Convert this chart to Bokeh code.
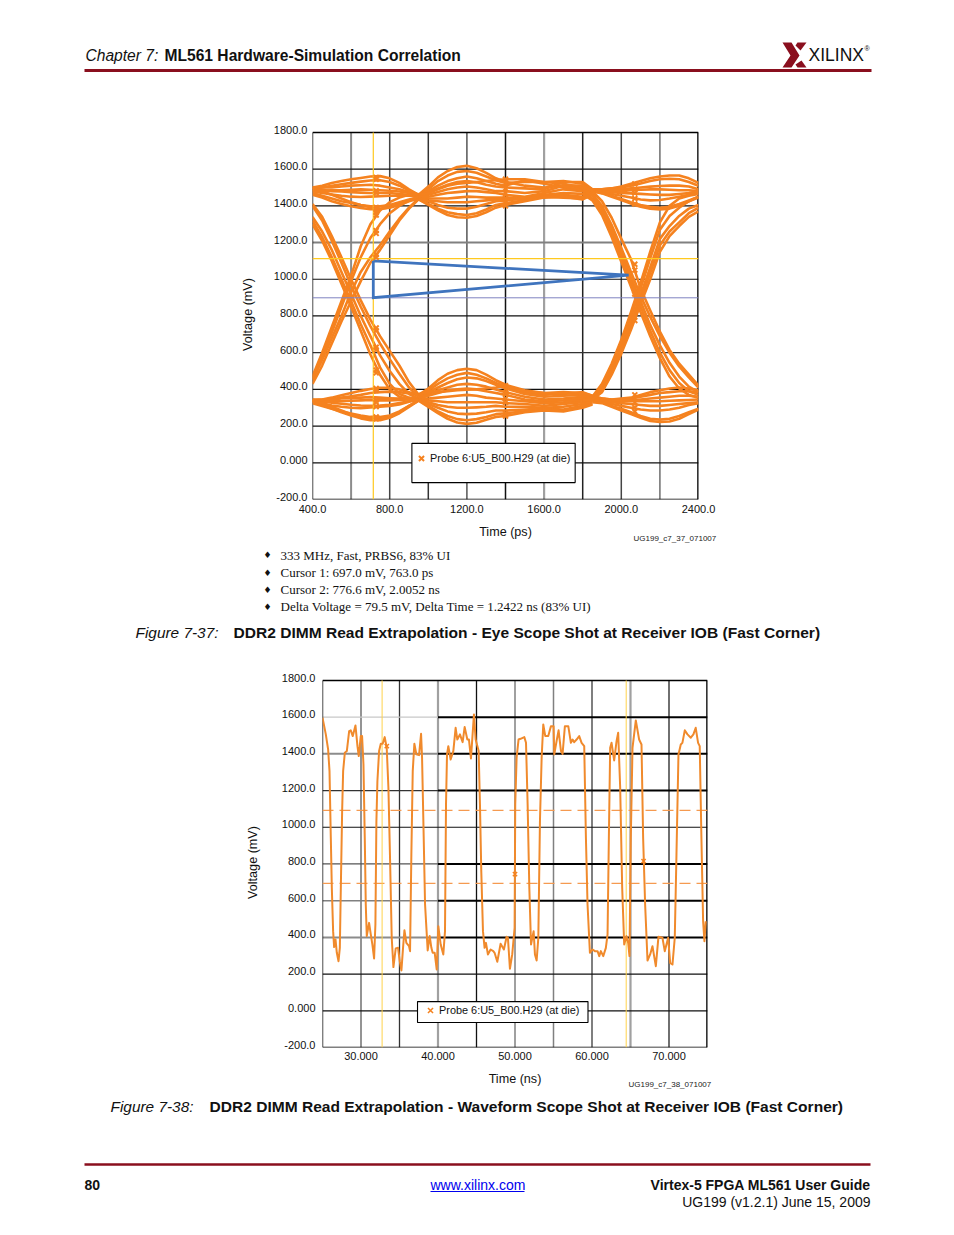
from bokeh.plotting import figure
from bokeh.layouts import column, row
from bokeh.models import (Range1d, FixedTicker, Legend, LegendItem, Spacer, BoxAnnotation)
from bokeh.core.properties import value
from bokeh.embed import file_html
from bokeh.resources import INLINE

ORANGE = "#F5821F"
MAROON = "#8A0F1E"
FONT = "Liberation Sans"

# ---------- eye diagram (figure 7-37) ----------
T_LEFT = [400, 450, 500, 550, 600, 650, 700, 750, 800, 850, 900, 950]
HI_LEFT = [
    [1500, 1510, 1525, 1535, 1545, 1552, 1560, 1562, 1550, 1525, 1490, 1460],
    [1490, 1500, 1510, 1518, 1525, 1532, 1538, 1540, 1530, 1510, 1485, 1460],
    [1500, 1500, 1500, 1505, 1510, 1512, 1515, 1510, 1500, 1490, 1475, 1460],
    [1480, 1483, 1485, 1485, 1488, 1490, 1488, 1485, 1482, 1478, 1470, 1460],
    [1490, 1487, 1480, 1478, 1475, 1472, 1470, 1470, 1470, 1465, 1460, 1450],
    [1480, 1470, 1462, 1455, 1450, 1448, 1450, 1452, 1455, 1455, 1455, 1450],
    [1470, 1455, 1440, 1425, 1415, 1405, 1398, 1398, 1405, 1420, 1435, 1445],
    [1460, 1445, 1425, 1410, 1398, 1388, 1382, 1382, 1392, 1410, 1430, 1445],
    [1500, 1480, 1460, 1440, 1420, 1405, 1392, 1385, 1390, 1405, 1425, 1440],
]
LO_LEFT = [
    [340, 345, 355, 368, 380, 392, 402, 408, 408, 400, 385, 370],
    [335, 340, 345, 355, 362, 370, 380, 385, 388, 385, 378, 368],
    [345, 345, 345, 350, 352, 355, 358, 355, 352, 350, 350, 355],
    [330, 332, 335, 335, 338, 340, 342, 340, 340, 342, 345, 350],
    [340, 335, 328, 322, 316, 312, 310, 312, 316, 325, 335, 348],
    [335, 325, 312, 305, 300, 298, 302, 305, 310, 318, 332, 345],
    [325, 310, 295, 280, 268, 258, 250, 250, 258, 280, 310, 340],
    [335, 315, 295, 275, 258, 242, 232, 232, 245, 270, 305, 338],
    [345, 325, 305, 285, 265, 250, 240, 238, 248, 275, 310, 340],
]
FALL_LEFT = [
    [1410, 1340, 1235, 1120, 1000, 885, 780, 690, 610, 530, 440, 370],
    [1400, 1320, 1210, 1090, 965, 850, 745, 650, 565, 485, 410, 360],
    [1340, 1260, 1160, 1040, 920, 800, 690, 585, 500, 430, 375, 350],
    [1320, 1230, 1120, 1000, 880, 755, 640, 520, 430, 375, 355, 345],
    [1300, 1210, 1100, 975, 850, 720, 590, 480, 400, 360, 345, 340],
]
RISE_LEFT = [
    [470, 600, 740, 880, 1020, 1180, 1300, 1375, 1420, 1445, 1460, 1465],
    [460, 580, 710, 850, 990, 1120, 1225, 1300, 1360, 1400, 1430, 1450],
    [450, 560, 680, 800, 930, 1040, 1120, 1185, 1260, 1330, 1390, 1440],
    [430, 530, 650, 770, 880, 990, 1090, 1160, 1240, 1320, 1385, 1435],
]
T_MID = [950, 1000, 1050, 1100, 1150, 1200, 1250, 1300, 1350, 1400, 1500, 1600, 1700, 1800, 1850]
HI_MID = [
    [1460, 1505, 1555, 1590, 1612, 1618, 1605, 1580, 1550, 1530, 1510, 1500, 1510, 1500, 1490],
    [1455, 1490, 1535, 1565, 1585, 1590, 1580, 1560, 1540, 1525, 1530, 1530, 1535, 1520, 1490],
    [1450, 1480, 1510, 1535, 1550, 1560, 1550, 1535, 1520, 1510, 1540, 1520, 1500, 1490, 1485],
    [1450, 1470, 1495, 1515, 1530, 1535, 1528, 1515, 1505, 1500, 1495, 1490, 1530, 1530, 1490],
    [1445, 1460, 1475, 1490, 1500, 1505, 1500, 1490, 1480, 1480, 1470, 1480, 1510, 1510, 1485],
    [1445, 1450, 1460, 1470, 1475, 1480, 1480, 1475, 1470, 1460, 1450, 1470, 1490, 1480, 1480],
    [1440, 1440, 1440, 1440, 1445, 1450, 1448, 1445, 1445, 1445, 1440, 1460, 1470, 1465, 1475],
    [1440, 1430, 1425, 1420, 1420, 1420, 1425, 1430, 1435, 1440, 1435, 1455, 1460, 1450, 1470],
    [1440, 1425, 1405, 1390, 1385, 1385, 1395, 1410, 1425, 1430, 1440, 1450, 1445, 1440, 1465],
    [1435, 1410, 1385, 1365, 1355, 1350, 1360, 1380, 1405, 1415, 1430, 1450, 1455, 1440, 1465],
    [1435, 1405, 1375, 1350, 1338, 1335, 1345, 1365, 1390, 1405, 1425, 1445, 1450, 1435, 1460],
    [1460, 1470, 1490, 1510, 1520, 1525, 1530, 1535, 1540, 1545, 1545, 1530, 1520, 1500, 1490],
]
LO_MID = [
    [370, 405, 450, 485, 505, 512, 505, 480, 450, 425, 395, 380, 375, 385, 365],
    [365, 395, 430, 460, 480, 490, 480, 460, 435, 415, 385, 370, 380, 375, 360],
    [360, 385, 410, 435, 455, 465, 460, 445, 425, 405, 375, 360, 365, 370, 355],
    [355, 375, 395, 410, 425, 430, 425, 415, 400, 385, 360, 345, 350, 360, 350],
    [350, 365, 380, 395, 400, 405, 400, 390, 380, 370, 345, 335, 340, 350, 345],
    [350, 350, 355, 360, 365, 370, 365, 355, 350, 345, 335, 325, 330, 340, 340],
    [348, 340, 335, 330, 330, 330, 330, 330, 330, 325, 320, 310, 320, 330, 335],
    [345, 330, 315, 305, 300, 300, 302, 305, 310, 305, 305, 300, 305, 320, 330],
    [345, 320, 300, 280, 268, 265, 268, 275, 285, 285, 290, 295, 290, 310, 325],
    [340, 310, 280, 255, 238, 232, 238, 250, 265, 270, 280, 290, 285, 305, 320],
    [338, 305, 270, 240, 220, 212, 218, 235, 250, 255, 275, 285, 280, 300, 318],
    [375, 385, 385, 390, 395, 398, 400, 405, 410, 420, 390, 380, 385, 380, 365],
]
T_RIGHT = [1850, 1900, 1950, 2000, 2050, 2100, 2150, 2200, 2250, 2300, 2350, 2400]
HI_RIGHT = [
    [1490, 1490, 1495, 1505, 1520, 1535, 1550, 1560, 1565, 1565, 1550, 1525],
    [1490, 1490, 1495, 1500, 1510, 1522, 1535, 1545, 1548, 1545, 1530, 1510],
    [1488, 1485, 1485, 1490, 1495, 1500, 1505, 1508, 1510, 1510, 1505, 1490],
    [1485, 1480, 1480, 1480, 1485, 1488, 1490, 1490, 1488, 1485, 1485, 1480],
    [1485, 1480, 1475, 1470, 1468, 1465, 1462, 1460, 1460, 1465, 1470, 1480],
    [1482, 1475, 1465, 1455, 1445, 1435, 1430, 1432, 1440, 1450, 1460, 1470],
    [1480, 1470, 1455, 1438, 1420, 1405, 1395, 1390, 1395, 1410, 1430, 1450],
    [1480, 1468, 1450, 1432, 1412, 1395, 1385, 1380, 1385, 1400, 1425, 1445],
]
LO_RIGHT = [
    [365, 350, 345, 350, 355, 370, 385, 395, 405, 410, 405, 395],
    [360, 350, 345, 345, 350, 360, 370, 380, 385, 390, 390, 385],
    [355, 350, 340, 340, 340, 345, 350, 355, 360, 365, 365, 360],
    [350, 345, 335, 335, 335, 335, 335, 335, 338, 340, 342, 345],
    [345, 340, 330, 325, 320, 315, 310, 310, 315, 320, 325, 330],
    [340, 335, 320, 310, 300, 290, 285, 285, 290, 300, 315, 325],
    [335, 330, 310, 295, 275, 255, 240, 235, 240, 255, 275, 295],
    [330, 325, 305, 285, 265, 245, 228, 222, 225, 240, 265, 290],
]
T_EDGE = [1800, 1850, 1900, 1950, 2000, 2050, 2100, 2150, 2200, 2250, 2300, 2350, 2400]
FALL_RIGHT = [
    [1500, 1480, 1425, 1335, 1220, 1110, 950, 830, 715, 615, 540, 480, 420],
    [1490, 1465, 1400, 1295, 1170, 1040, 910, 795, 690, 600, 525, 465, 410],
    [1480, 1455, 1385, 1275, 1145, 1010, 880, 750, 640, 545, 470, 415, 385],
    [1470, 1440, 1365, 1250, 1120, 985, 850, 720, 600, 505, 435, 390, 370],
    [1465, 1430, 1350, 1230, 1095, 960, 820, 690, 570, 470, 405, 370, 355],
]
RISE_RIGHT = [
    [345, 360, 430, 540, 670, 820, 980, 1150, 1310, 1400, 1440, 1455, 1465],
    [345, 355, 415, 525, 650, 795, 950, 1115, 1270, 1345, 1390, 1425, 1450],
    [340, 350, 400, 500, 625, 765, 915, 1065, 1220, 1290, 1345, 1385, 1405],
    [340, 345, 390, 490, 610, 745, 890, 1035, 1185, 1260, 1310, 1360, 1390],
    [340, 345, 385, 480, 595, 725, 865, 1000, 1150, 1235, 1290, 1340, 1370],
]
EYE_MARK_T = [730, 1400, 2070]
EYE_MARK_V = [
    [1555, 1545, 1482, 1470, 1391, 1380, 1364, 1350, 1265, 1250, 1135, 1120, 735, 720, 630, 615, 505, 490, 405, 395, 342, 330, 306, 250, 240],
    [1545, 1520, 1495, 1470, 1440, 1420, 1400, 420, 400, 380, 350, 330, 270, 255],
    [1520, 1490, 1470, 1440, 1410, 1082, 1050, 920, 775, 370, 350, 330, 300, 280],
]
EYE_CURSOR_T = 715
EYE_CURSOR_HI = 1112
EYE_CURSOR_LO = 899
TRI_T = [715, 2038, 715, 715]
TRI_V = [1100, 1022, 900, 1100]
EYE_GV = [600, 800, 1000, 1200, 1400, 1600, 1800, 2000, 2200]
EYE_GV_C = ["#8c8c8c", "#444444", "#333333", "#555555", "#111111", "#a0a0a0", "#222222", "#444444", "#777777"]
EYE_GV_W = [2, 1.5, 1.5, 1.5, 1.5, 2.2, 1.5, 1.5, 1.6]
EYE_GH = [1600, 1400, 1200, 1000, 800, 600, 400, 200, 0]
EYE_GH_C = ["#111111", "#111111", "#808080", "#111111", "#111111", "#333333", "#111111", "#111111", "#111111"]
EYE_GH_W = [1.2, 1.2, 2, 1.2, 1.2, 1.3, 1.2, 1.2, 1.2]
EYE_XT = [400, 800, 1200, 1600, 2000, 2400]
EYE_XL = ["400.0", "800.0", "1200.0", "1600.0", "2000.0", "2400.0"]

# ---------- waveform (figure 7-38) ----------
WAVE_T = [25.00, 25.22, 25.43, 25.73, 25.91, 26.08, 26.21, 26.38, 26.51, 26.69, 26.86, 27.08, 27.25, 27.38, 27.55, 27.68, 27.90, 28.16, 28.46, 28.67,
          28.93, 29.28, 29.54, 29.71, 29.97, 30.14, 30.32, 30.49, 30.62, 30.75, 31.05, 31.27, 31.48, 31.70, 31.87, 32.00, 32.13, 32.35, 32.57, 32.82,
          33.08, 33.34, 33.56, 33.78, 33.99, 34.21, 34.51, 34.81, 35.03, 35.25, 35.46, 35.64, 35.89, 36.24, 36.37, 36.54, 36.72, 36.93, 37.19, 37.54,
          37.80, 37.93, 38.10, 38.32, 38.66, 38.92, 39.14, 39.31, 39.57, 39.83, 40.04, 40.35, 40.69, 40.91, 41.04, 41.17, 41.34, 41.64, 41.99, 42.29,
          42.51, 42.85, 43.20, 43.46, 43.81, 44.02, 44.28, 44.67, 44.89, 45.28, 45.45, 45.62, 45.84, 46.05, 46.23, 46.48, 46.83, 47.18, 47.35, 47.70,
          48.13, 48.56, 48.91, 49.08, 49.34, 49.64, 49.95, 50.03, 50.21, 50.46, 50.72, 51.21, 51.43, 51.64, 51.86, 52.08, 52.42, 52.59, 52.81, 53.03,
          53.24, 53.46, 53.67, 53.93, 54.32, 54.67, 55.01, 55.10, 55.40, 55.66, 55.97, 56.18, 56.48, 56.92, 57.26, 57.48, 57.69, 58.00, 58.34, 58.65,
          58.99, 59.21, 59.42, 59.73, 60.07, 60.38, 60.72, 60.94, 61.15, 61.46, 61.80, 62.02, 62.19, 62.36, 62.54, 62.88, 63.19, 63.40, 63.66, 63.92,
          64.18, 64.48, 64.70, 64.87, 65.04, 65.26, 65.69, 66.12, 66.43, 66.64, 66.90, 67.21, 67.55, 67.85, 68.29, 68.63, 69.15, 69.45, 69.89, 70.15,
          70.45, 70.75, 70.97, 71.23, 71.53, 71.74, 72.05, 72.40, 72.83, 73.17, 73.47, 73.78, 73.99, 74.21, 74.43, 74.60, 74.77]
WAVE_V = [1597, 1551, 1506, 1424, 1306, 943, 670, 434, 347, 389, 316, 270, 343, 670, 1088, 1306, 1406, 1415, 1524, 1528,
          1497, 1555, 1442, 1388, 1497, 1497, 1342, 943, 579, 407, 479, 416, 361, 285, 470, 1033, 1251, 1415, 1455, 1455,
          1491, 1433, 1215, 815, 398, 238, 340, 343, 270, 220, 343, 439, 370, 352, 325, 852, 1306, 1455, 1397, 1393,
          1509, 1379, 1033, 579, 329, 407, 343, 316, 316, 225, 461, 361, 307, 434, 1124, 1397, 1442, 1369, 1415, 1542,
          1478, 1506, 1464, 1546, 1478, 1478, 1375, 1615, 1478, 1415, 1124, 761, 434, 343, 370, 307, 334, 325, 316, 267,
          365, 334, 403, 398, 229, 307, 452, 1124, 1379, 1478, 1482, 1491, 1460, 1124, 670, 361, 434, 307, 274, 398,
          1033, 1379, 1560, 1497, 1497, 1551, 1551, 1397, 1469, 1528, 1415, 1400, 1551, 1551, 1460, 1478, 1464, 1478, 1497, 1460,
          1442, 943, 579, 316, 334, 325, 325, 298, 325, 298, 343, 416, 943, 1433, 1460, 1364, 1469, 1515, 1215, 670,
          361, 407, 370, 298, 943, 1433, 1582, 1478, 1451, 943, 579, 274, 307, 352, 243, 403, 398, 325, 398, 261,
          252, 398, 852, 1397, 1451, 1460, 1528, 1506, 1488, 1506, 1542, 1460, 1442, 943, 488, 379, 488]
WAVE_MARK_T = [33.35, 50.0, 66.7]
WAVE_MARK_V = [1442, 745, 815]
WAVE_DASH = [1092, 694]
WAVE_CURSOR_T = [32.74, 64.44]
WAVE_GV = [30, 35, 40, 45, 50, 55, 60, 65, 70]
WAVE_GV_C = ["#707070", "#333333", "#a0a0a0", "#111111", "#808080", "#808080", "#555555", "#a0a0a0", "#222222"]
WAVE_GV_W = [1.5, 1.3, 2.2, 1.3, 1.5, 1.5, 1.5, 2.2, 1.3]
WAVE_GH = [1600, 1400, 1200, 1000, 800, 600, 400, 200, 0]
WAVE_GH_LEFT_C = ["#c8c8c8", "#8c8c8c", "#333333", "#111111", "#555555", "#808080", "#8c8c8c", "#111111", "#111111"]
WAVE_GH_LEFT_W = [1.2, 2, 1.2, 1.2, 1.3, 1.5, 2, 1.2, 1.2]
WAVE_GH_RIGHT_C = ["#000000", "#000000", "#000000", "#111111", "#000000", "#000000", "#000000", "#111111", "#111111"]
WAVE_GH_RIGHT_W = [2, 2, 2, 1.2, 2, 2, 2, 1.2, 1.2]
WAVE_XT = [30, 40, 50, 60, 70]
WAVE_XL = ["30.000", "40.000", "50.000", "60.000", "70.000"]

Y_TICKS = [1800, 1600, 1400, 1200, 1000, 800, 600, 400, 200, 0, -200]
Y_LABELS = ["1800.0", "1600.0", "1400.0", "1200.0", "1000.0", "800.0", "600.0", "400.0", "200.0", "0.000", "-200.0"]
Y_LABEL_LIFT = 16  # the value labels sit about 3 px above their grid lines
LEGEND_TEXT = "Probe 6:U5_B00.H29 (at die)"

# ---------- page text ----------
BULLETS = ["333 MHz, Fast, PRBS6, 83% UI", "Cursor 1: 697.0 mV, 763.0 ps", "Cursor 2: 776.6 mV, 2.0052 ns",
           "Delta Voltage = 79.5 mV, Delta Time = 1.2422 ns (83% UI)"]
LOGO_A = ([782, 791, 799, 791, 782, 790], [42, 42, 55, 67, 67, 55])
LOGO_B = ([797, 806, 800, 795], [42, 42, 50, 45])
LOGO_C = ([801, 806, 797, 795], [60, 67, 67, 64])


def make_page(top, bottom, overlap=0):
    p = figure(width=938, height=bottom - top, x_range=Range1d(8, 946), y_range=Range1d(bottom, top),
               output_backend="svg", toolbar_location=None, min_border=0, x_axis_location=None, y_axis_location=None,
               margin=(-overlap, 0, 0, 0))
    p.grid.visible = False
    p.outline_line_color = None
    p.background_fill_color = None
    p.border_fill_color = None
    return p


def put(p, x, y, s, size, style="normal", font=FONT, color="#111111", align="left"):
    p.text(x=[x], y=[y], text=[s], text_font=value(font), text_font_size=f"{size}px", text_font_style=style,
           text_color=color, text_align=align, text_baseline="middle")


def make_chart(xr, xt, xl, xlabel, left, frame_w, right, top, bottom, ylab_standoff, xlab_standoff, xtick_standoff, ytick_standoff):
    # the frame is 3 px taller than the plot box so that the lifted 1800.0 label stays in range
    p = figure(width=left + frame_w + right, height=top - 3 + 370 + bottom, x_range=Range1d(*xr),
               y_range=Range1d(-200, 1800 + Y_LABEL_LIFT),
               output_backend="svg", toolbar_location=None, min_border_left=left, min_border_right=right,
               min_border_top=top - 3, min_border_bottom=bottom)
    p.grid.visible = False
    p.outline_line_color = None
    p.background_fill_color = None
    lifted = [v + Y_LABEL_LIFT for v in Y_TICKS]
    p.xaxis.ticker = FixedTicker(ticks=xt)
    p.xaxis.major_label_overrides = dict(zip(xt, xl))
    p.yaxis.ticker = FixedTicker(ticks=lifted)
    p.yaxis.major_label_overrides = dict(zip(lifted, Y_LABELS))
    for ax, lab, st, ts in ((p.xaxis[0], xlabel, xlab_standoff, xtick_standoff), (p.yaxis[0], "Voltage (mV)", ylab_standoff, ytick_standoff)):
        ax.axis_label = lab
        ax.axis_label_text_font = FONT
        ax.axis_label_text_font_style = "normal"
        ax.axis_label_text_font_size = "12.6px"
        ax.axis_label_text_color = "#111111"
        ax.axis_label_standoff = st
        ax.major_label_text_font = FONT
        ax.major_label_text_font_size = "11px"
        ax.major_label_text_color = "#111111"
        ax.major_label_standoff = ts
        ax.axis_line_color = None
        ax.major_tick_line_color = None
        ax.minor_tick_line_color = None
        ax.major_tick_out = 0
        ax.major_tick_in = 0
    return p


def frame_lines(p, x0, x1):
    p.segment([x0, x0, x0], [-200, 1800, -200], [x0, x1, x1], [1800, 1800, -200], line_color="#000000", line_width=1.4)
    p.segment([x1], [-200], [x1], [1800], line_color="#000000", line_width=2.6)


def add_legend(p, scatter, box, standoff, loc):
    p.add_layout(BoxAnnotation(left=box[0], right=box[1], bottom=box[2], top=box[3], fill_color="white", fill_alpha=1,
                               line_color="#000000", line_alpha=1, line_width=1.1))
    leg = Legend(items=[LegendItem(label=LEGEND_TEXT, renderers=[scatter])], location=loc, padding=0, margin=0,
                 glyph_width=18, label_standoff=standoff, label_height=13, glyph_height=18, spacing=0,
                 background_fill_alpha=0, border_line_color=None, label_text_font=FONT, label_text_font_size="10.9px",
                 label_text_color="#111111")
    p.add_layout(leg)


# header
head = make_page(8, 100)
put(head, 85, 55, "Chapter 7:", 15.6, "italic")
put(head, 164, 55, "ML561 Hardware-Simulation Correlation", 15.6, "bold")
head.segment([84], [70], [871], [70], line_color=MAROON, line_width=2.8)
for px, py in (LOGO_A, LOGO_B, LOGO_C):
    head.patch(px, py, fill_color=MAROON, line_color=None)
put(head, 808, 54, "XILINX", 17.5, "normal", FONT, "#111111")
put(head, 864, 48, "®", 7, "normal", FONT, "#111111")

# chart 1
c1 = make_chart((400, 2400), EYE_XT, EYE_XL, "Time (ps)", 82, 386, 22, 32, 34, 16, 9, 5, 5)
for x, c, w in zip(EYE_GV, EYE_GV_C, EYE_GV_W):
    c1.segment([x], [-200], [x], [1800], line_color=c, line_width=w)
for y, c, w in zip(EYE_GH, EYE_GH_C, EYE_GH_W):
    c1.segment([400], [y], [2400], [y], line_color=c, line_width=w)
frame_lines(c1, 400, 2400)
for t, rows in ((T_LEFT, HI_LEFT + LO_LEFT + FALL_LEFT + RISE_LEFT), (T_MID, HI_MID + LO_MID),
                (T_RIGHT, HI_RIGHT + LO_RIGHT), (T_EDGE, FALL_RIGHT + RISE_RIGHT)):
    for r in rows:
        c1.line(t, r, line_color=ORANGE, line_width=2.6, line_join="round")
c1.segment([400], [EYE_CURSOR_HI], [2400], [EYE_CURSOR_HI], line_color="#FFC91F", line_width=1.2)
c1.segment([400], [EYE_CURSOR_LO], [2400], [EYE_CURSOR_LO], line_color="#7F82C0", line_width=1)
c1.segment([EYE_CURSOR_T], [-200], [EYE_CURSOR_T], [1800], line_color="#FFC91F", line_width=1.2)
c1.line(TRI_T, TRI_V, line_color="#3F74BE", line_width=2.8, line_join="miter")
m1 = None
for t, vals in zip(EYE_MARK_T, EYE_MARK_V):
    m1 = c1.scatter([t] * len(vals), vals, marker="x", size=7, line_color=ORANGE, line_width=2)
add_legend(c1, m1, (915, 1761, -108, 106), -6, (100, 32))

# bullets and first caption
mid = make_page(533, 650)
put(mid, 633, 538, "UG199_c7_37_071007", 8, color="#222222")
for yy, s in zip([554.5, 572, 589, 606], BULLETS):
    put(mid, 263, yy, "♦", 9, "normal", "DejaVu Sans", "#111111")
    put(mid, 280, yy, s, 13, "normal", "Liberation Serif", "#111111")
put(mid, 135, 632, "Figure 7-37:", 15.4, "italic")
put(mid, 233, 632, "DDR2 DIMM Read Extrapolation - Eye Scope Shot at Receiver IOB (Fast Corner)", 15.55, "bold")

# chart 2
c2 = make_chart((25, 75), WAVE_XT, WAVE_XL, "Time (ns)", 87, 385, 18, 30, 31, 19, 9, 4, 7)
for x, c, w in zip(WAVE_GV, WAVE_GV_C, WAVE_GV_W):
    c2.segment([x], [-200], [x], [1800], line_color=c, line_width=w)
for y, c, w in zip(WAVE_GH, WAVE_GH_LEFT_C, WAVE_GH_LEFT_W):
    c2.segment([25], [y], [40], [y], line_color=c, line_width=w)
for y, c, w in zip(WAVE_GH, WAVE_GH_RIGHT_C, WAVE_GH_RIGHT_W):
    c2.segment([40], [y], [75], [y], line_color=c, line_width=w)
frame_lines(c2, 25, 75)
for d in WAVE_DASH:
    c2.segment([25], [d], [75], [d], line_color="#F59A50", line_width=1.2, line_dash="11 6")
for t in WAVE_CURSOR_T:
    c2.segment([t], [-200], [t], [1800], line_color="#FFD24A", line_width=1)
c2.line(WAVE_T, WAVE_V, line_color="#F08A2C", line_width=2, line_join="round")
m2 = c2.scatter(WAVE_MARK_T, WAVE_MARK_V, marker="x", size=6, line_color=ORANGE, line_width=1.5)
add_legend(c2, m2, (37.34, 59.48, -64, 50), -2, (99, 28))

# second caption and footer
foot = make_page(1078, 1227)
put(foot, 628, 1084, "UG199_c7_38_071007", 8, color="#222222")
put(foot, 110, 1106, "Figure 7-38:", 15.4, "italic")
put(foot, 209, 1106, "DDR2 DIMM Read Extrapolation - Waveform Scope Shot at Receiver IOB (Fast Corner)", 15.55, "bold")
foot.segment([84], [1164], [870], [1164], line_color=MAROON, line_width=2.6)
put(foot, 84, 1184, "80", 14, "bold")
put(foot, 430, 1184, "www.xilinx.com", 14, "normal", FONT, "#0000EE")
foot.segment([430], [1191], [524], [1191], line_color="#0000EE", line_width=1)
put(foot, 870, 1184, "Virtex-5 FPGA ML561 User Guide", 14, "bold", align="right")
put(foot, 870, 1201, "UG199 (v1.2.1) June 15, 2009", 14, "normal", align="right")

# the chart figures keep their axis label room by running on under the transparent text strips
c1.min_border_bottom = 46
c2.min_border_bottom = 45
c1.height = 32 + 367 + 46
c2.height = 30 + 367 + 45
mid.margin = (-12, 0, 0, 0)
foot.margin = (-14, 0, 0, 0)

inner = column(head,
               row(Spacer(width=222, height=1), c1),
               mid,
               row(Spacer(width=227, height=1), c2),
               foot, spacing=0)
page = column(Spacer(width=1, height=8), row(Spacer(width=8, height=1), inner))
open("out.html", "w").write(file_html(page, INLINE))
